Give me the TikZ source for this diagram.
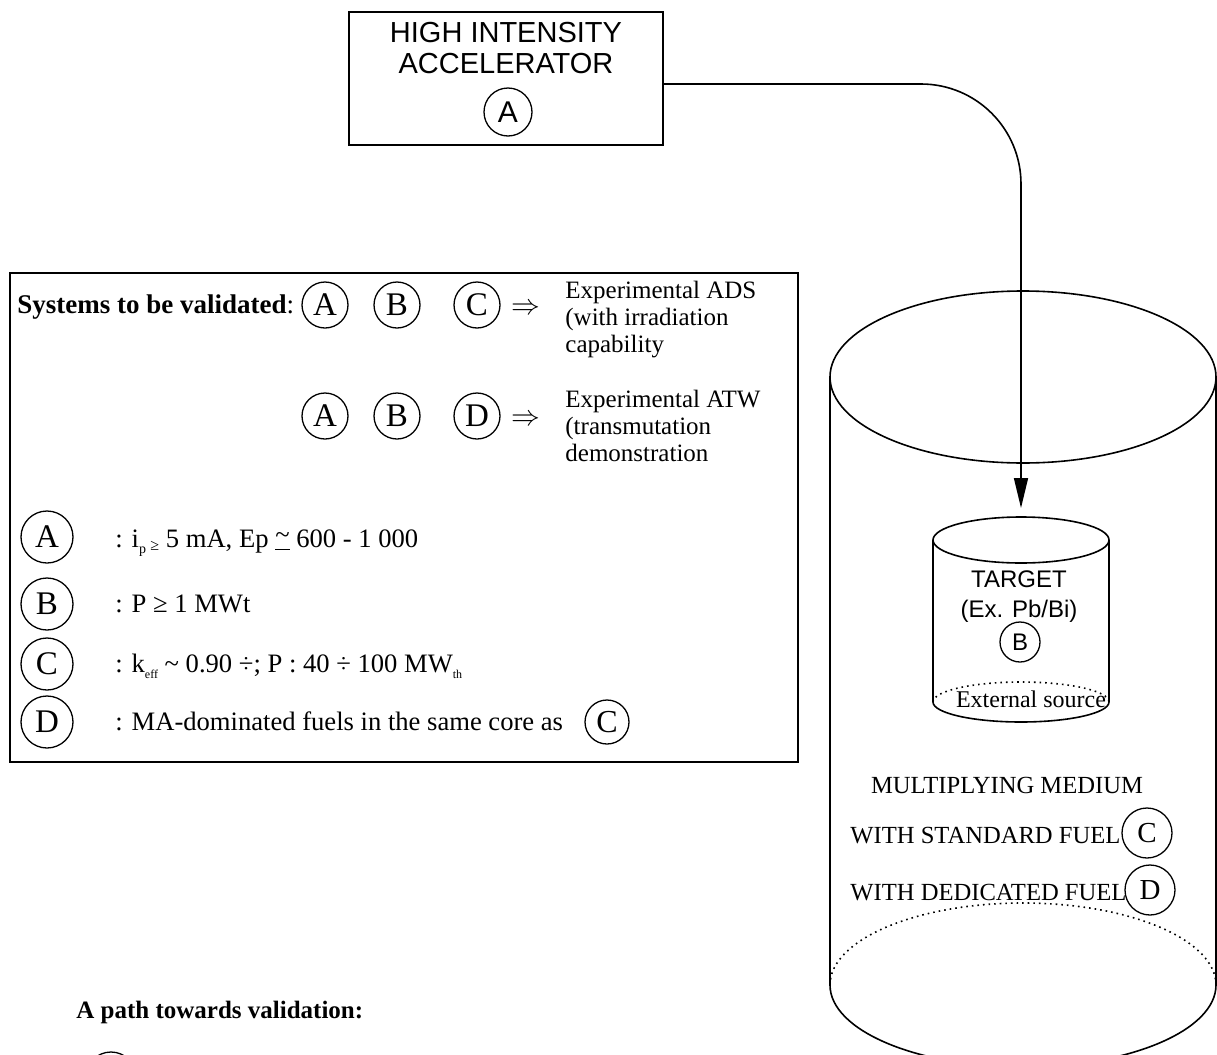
\documentclass[tikz,border=0pt]{standalone}
\usepackage{fontspec}
\setmainfont{Liberation Serif}
\newfontfamily\arialf{Liberation Sans}
\newfontfamily\djsf{DejaVu Serif}
\usetikzlibrary{arrows.meta}
\begin{document}
\begin{tikzpicture}[x=0.5pt,y=-0.5pt,
  txt/.style={inner sep=0pt, anchor=base west, font=\fontsize{12.5}{15}\selectfont},
  ltxt/.style={inner sep=0pt, anchor=base west, font=\fontsize{13.3}{15}\selectfont},
  mtxt/.style={inner sep=0pt, anchor=base west, font=\fontsize{12.3}{15}\selectfont},
  ctxt/.style={inner sep=0pt, anchor=base, font=\fontsize{12.3}{15}\selectfont},
  atxt/.style={inner sep=0pt, anchor=base, font=\arialf\fontsize{14.5}{15.5}\selectfont},
  ttxt/.style={inner sep=0pt, anchor=base, font=\arialf\fontsize{12}{13}\selectfont},
  lcirc/.style={draw, circle, inner sep=0pt, line width=0.65pt, minimum size=#1},
  rowc/.style={lcirc=23pt, font=\fontsize{16.5}{18}\selectfont},
  legc/.style={lcirc=26pt, font=\fontsize{16.5}{18}\selectfont},
  implies/.style={inner sep=0pt, font=\fontsize{15}{16}\selectfont},
  frame/.style={draw, line width=1pt, inner sep=0pt},
  cyl/.style={line width=0.8pt},
  cyldot/.style={line width=0.8pt, dotted},
  conn/.style={line width=0.8pt, rounded corners=50pt, -{Triangle[length=15pt,width=7pt]}}
]
\useasboundingbox (0,0) rectangle (1217,1055);
\clip (0,0) rectangle (1217,1055);

% accelerator
\node[frame, minimum width=157pt, minimum height=66.5pt] (acc) at (506,78.5) {};
\node[atxt] (acc1) at (506,42) {HIGH INTENSITY};
\node[atxt] (acc2) at (506,73) {ACCELERATOR};
\node[lcirc=24pt, font=\arialf\fontsize{15}{17}\selectfont] (accA) at (508,112) {A};

% big cylinder
\draw[cyl] (1023,377) ellipse [x radius=193, y radius=86];
\draw[cyl] (830,377) -- (830,985);
\draw[cyl] (1216,377) -- (1216,985);
\draw[cyl] (830,985) arc[start angle=180, end angle=0, x radius=193, y radius=82];
\draw[cyldot] (830,985) arc[start angle=180, end angle=360, x radius=193, y radius=82];

% target cylinder
\draw[cyl] (1021,540) ellipse [x radius=88, y radius=23];
\draw[cyl] (933,540) -- (933,702);
\draw[cyl] (1109,540) -- (1109,702);
\draw[cyl] (933,702) arc[start angle=180, end angle=0, x radius=88, y radius=20];
\draw[cyldot] (933,702) arc[start angle=180, end angle=360, x radius=88, y radius=20];
\coordinate (tgt) at (1021,508);
\node[ttxt] (t1) at (1019,587) {TARGET};
\node[ttxt] (t2) at (1019,617) {(Ex. Pb/Bi)};
\node[lcirc=20pt, font=\arialf\fontsize{12}{13}\selectfont] (tB) at (1020,642) {B};
\node[ctxt, font=\fontsize{12}{13}\selectfont] (ext) at (1031,707) {External source};

% connector
\draw[conn] ([yshift=-2.75pt]acc.east) -- (1021,84) -- (tgt);

% multiplying medium
\node[ctxt] (mm) at (1007,793) {MULTIPLYING MEDIUM};
\node[mtxt] (mm1) at (850,843) {WITH STANDARD FUEL};
\node[lcirc=25pt, font=\fontsize{14.5}{16}\selectfont] (mmC) at (1147,833) {C};
\node[mtxt] (mm2) at (850,900) {WITH DEDICATED FUEL};
\node[lcirc=25pt, font=\fontsize{14.5}{16}\selectfont] (mmD) at (1150,890) {D};

% left box
\node[frame, minimum width=394pt, minimum height=244.5pt] (box) at (404,517.5) {};
\node[txt] (sys) at (17,313) {\fontsize{13.5}{15}\selectfont\textbf{Systems to be validated}:};
\node[rowc] (r1A) at (325,305) {A};
\node[rowc] (r1B) at (397,305) {B};
\node[rowc] (r1C) at (477,305) {C};
\node[implies] (r1arr) at (526,309) {$\Rightarrow$};
\node[txt] (e1a) at (565,298) {Experimental ADS};
\node[txt] (e1b) at (565,325) {(with irradiation};
\node[txt] (e1c) at (565,352) {capability};

\node[rowc] (r2A) at (325,416) {A};
\node[rowc] (r2B) at (397,416) {B};
\node[rowc] (r2D) at (477,416) {D};
\node[implies] (r2arr) at (526,420) {$\Rightarrow$};
\node[txt] (e2a) at (565,407) {Experimental ATW};
\node[txt] (e2b) at (565,434) {(transmutation};
\node[txt] (e2c) at (565,461) {demonstration};

\node[legc] (lA) at (47,537) {A};
\node[legc] (lB) at (47,604) {B};
\node[legc] (lC) at (47,664) {C};
\node[legc] (lD) at (47,722) {D};
\node[ltxt] (dA) at (115,547) {: i\raisebox{-0.5ex}{\fontsize{7}{8}\selectfont p}\,\raisebox{-0.3ex}{\fontsize{8}{8}\selectfont ≥} 5 mA, Ep \underline{\raisebox{0.3ex}{\textasciitilde}} 600 - 1 000};
\node[ltxt] (dB) at (115,612) {: P ≥ 1 MWt};
\node[ltxt] (dC) at (115,672) {: k\raisebox{-0.5ex}{\fontsize{6}{7}\selectfont eff} \textasciitilde{} 0.90 ÷; P : 40 ÷ 100 MW\raisebox{-0.5ex}{\fontsize{6}{7}\selectfont th}};
\node[ltxt] (dD) at (115,730) {: MA-dominated fuels in the same core as};
\node[lcirc=22pt, font=\fontsize{16}{18}\selectfont] (dDC) at (607,722) {C};

% bottom
\node[txt, font=\fontsize{12.5}{15}\selectfont\bfseries] (path) at (76,1018) {A path towards validation:};
\node[lcirc=25pt] (pc) at (111,1077) {};
\end{tikzpicture}
\end{document}
